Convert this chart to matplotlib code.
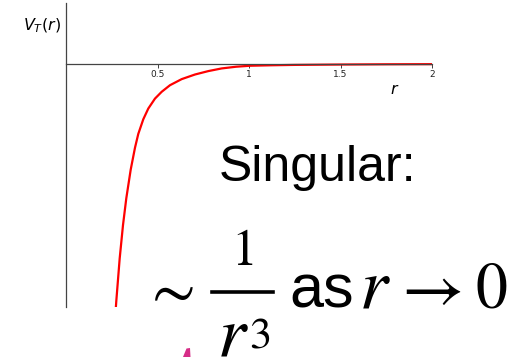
import matplotlib
matplotlib.use("Agg")
import matplotlib.pyplot as plt
from matplotlib.lines import Line2D
from matplotlib.patches import Polygon

plt.rcParams["mathtext.fontset"] = "stix"

# tensor potential V_T(r), sampled points (arbitrary units)
r_vals = [0.2694, 0.2749, 0.2934, 0.3115, 0.3295, 0.3536, 0.3770,
          0.3951, 0.4224, 0.4497, 0.4863, 0.5230, 0.5683, 0.6322, 0.7049,
          0.7776, 0.8508, 0.9300, 1.005, 1.125, 1.250, 1.500, 1.750, 2.000]
v_vals = [-10.35, -9.75, -8.00, -6.63, -5.53, -4.35, -3.45,
          -2.88, -2.28, -1.84, -1.43, -1.15, -0.88, -0.63, -0.44,
          -0.30, -0.19, -0.12, -0.08, -0.06, -0.045, -0.03, -0.02, -0.015]
xticks = [0.5, 1, 1.5, 2]
xtick_labels = ["0.5", "1", "1.5", "2"]

W, H = 517, 357
fig = plt.figure(figsize=(W / 100, H / 100), dpi=100)
ax = fig.add_axes([66 / W, 50 / H, 366 / W, 304 / H])

ax.plot(r_vals, v_vals, color="red", lw=1.6, solid_capstyle="butt",
        solid_joinstyle="round")
ax.set_xlim(0, 2)
ax.set_ylim(-10, 2.5)

for side in ["top", "right"]:
    ax.spines[side].set_visible(False)
ax.spines["bottom"].set_position(("data", 0))
ax.spines["left"].set_position(("data", 0))
for side in ["bottom", "left"]:
    ax.spines[side].set_color("#444444")
    ax.spines[side].set_linewidth(0.9)

ax.set_xticks(xticks)
ax.set_xticklabels(xtick_labels)
ax.set_yticks([])
ax.tick_params(axis="x", direction="out", length=3, width=0.6,
               labelsize=6.5, pad=1.5, colors="#222222")


def px(x, y):
    return x / W, 1 - y / H


fig.text(*px(23, 26), r"$V_T(r)$", fontsize=11.5, va="center", ha="left",
         math_fontfamily="dejavusans")
fig.text(*px(395, 90), r"$r$", fontsize=11.5, va="center", ha="center",
         math_fontfamily="dejavusans")

fig.text(*px(219, 181), "Singular:", fontsize=36, family="Liberation Sans",
         ha="left", va="baseline")

# ~ 1/r^3 as r -> 0, set piece by piece
fig.text(*px(142, 308), r"$\sim$", fontsize=46, ha="left", va="baseline")
fig.text(*px(242, 265), r"$1$", fontsize=37, ha="center", va="baseline")
fig.add_artist(Line2D([212 / W, 273 / W], [1 - 291.5 / H, 1 - 291.5 / H],
                      transform=fig.transFigure, color="black", lw=2.6))
fig.text(*px(217, 355), r"$r$", fontsize=52, ha="left", va="baseline")
fig.text(*px(249, 348), r"$3$", fontsize=32, ha="left", va="baseline")
fig.text(*px(289, 308), "as", fontsize=44, family="Liberation Sans",
         ha="left", va="baseline")
fig.text(*px(359, 308), r"$r$", fontsize=52, ha="left", va="baseline")
fig.text(*px(392, 308), r"$\rightarrow$", fontsize=49, ha="left",
         va="baseline")
fig.text(*px(475, 308), r"$0$", fontsize=46, ha="left", va="baseline")

# pink pen stroke
pts = [px(183, 357), px(186.5, 348.5), px(190, 348), px(190.5, 357)]
fig.patches.append(Polygon(pts, closed=True, transform=fig.transFigure,
                           facecolor="#d62d87", edgecolor="none"))

fig.savefig("out.png", dpi=100)
